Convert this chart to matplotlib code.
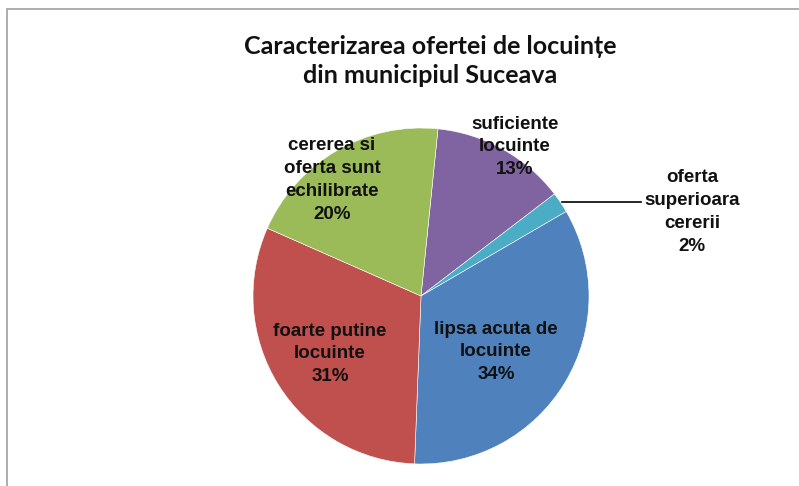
import matplotlib
matplotlib.use("Agg")
import matplotlib.pyplot as plt
from matplotlib.patches import Rectangle

# slices in drawing order (clockwise from near 12 o'clock)
NAMES = ["suficiente\nlocuinte", "oferta\nsuperioara\ncererii", "lipsa acuta de\nlocuinte",
         "foarte putine\nlocuinte", "cererea si\noferta sunt\nechilibrate"]
VALUES = [13, 2, 34, 31, 20]
COLORS = ["#8064A2", "#4BACC6", "#4F81BD", "#C0504D", "#9BBB59"]
TITLE = "Caracterizarea ofertei de locuințe\ndin municipiul Suceava"

W, H = 799, 486
CX, CY, R = 421, 296, 168

fig = plt.figure(figsize=(W / 100, H / 100), dpi=100)
fig.patches.append(Rectangle((7 / W, -0.1), 1.2, (H - 9) / H + 0.1, transform=fig.transFigure,
                             fill=False, edgecolor="#a0a0a0", linewidth=1.2))

ax = fig.add_axes([(CX - R) / W, (H - CY - R) / H, 2 * R / W, 2 * R / H])
ax.pie(VALUES, colors=COLORS, startangle=84.2, counterclock=False,
       wedgeprops=dict(edgecolor="white", linewidth=0.4))
ax.set_xlim(-1, 1)
ax.set_ylim(-1, 1)
ax.set_aspect("equal")
ax.axis("off")

# label positions in pie units
label_pos = [(0.56, 0.887), (1.613, 0.50), (0.446, -0.333), (-0.542, -0.345), (-0.530, 0.690)]
total = sum(VALUES)
for name, v, (x, y) in zip(NAMES, VALUES, label_pos):
    ax.text(x, y, "{}\n{:.0f}%".format(name, 100 * v / total), ha="center", va="center",
            fontsize=13.5, fontweight="bold", family="Liberation Sans", color="#111111",
            linespacing=1.44, clip_on=False)

# leader line for the small slice
ax.plot([(562 - CX) / R, (641 - CX) / R], [(CY - 202) / R] * 2, color="black", lw=1.2,
        clip_on=False)

fig.text(430 / W, 1 - 61 / H, TITLE, ha="center", va="center", fontsize=18,
         fontweight="bold", family="Lato", color="#111111", linespacing=1.3)

fig.savefig("out.png", dpi=100, facecolor="white")
